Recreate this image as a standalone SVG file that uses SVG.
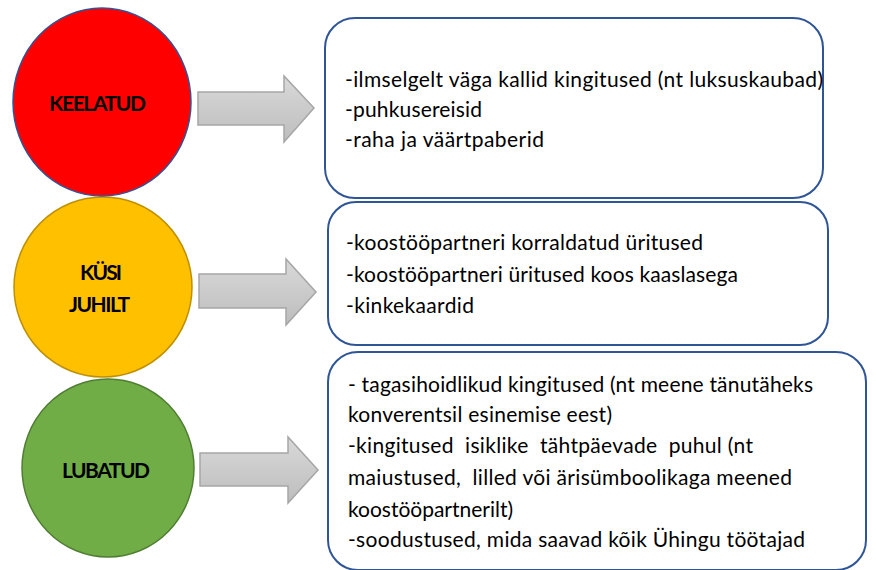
<svg xmlns="http://www.w3.org/2000/svg" width="876" height="570" viewBox="0 0 876 570">
<defs>
<linearGradient id="ag" x1="0" y1="0" x2="0" y2="1">
<stop offset="0" stop-color="#d9d9d9"/>
<stop offset="1" stop-color="#bdbdbd"/>
</linearGradient>
<style>
.lbl{font-family:Lato,"Liberation Sans",sans-serif;font-weight:bold;font-size:21px;fill:#000}
.txt{font-family:Lato,"Liberation Sans",sans-serif;font-size:21px;fill:#000}
.box{fill:#fff;stroke:#2f5597;stroke-width:2}
.arr{fill:url(#ag);stroke:#a6a6a6;stroke-width:1.5}
</style>
</defs>
<rect width="876" height="570" fill="#fff"/>
<g id="connectors">
<path class="arr" d="M198,92 H284 V76 L314,108 L284,142 V125 H198 Z"/>
<path class="arr" d="M199,274 H286 V259 L316,292 L286,325 V308 H199 Z"/>
<path class="arr" d="M200,453 H288 V437 L318,470 L288,503 V486 H200 Z"/>
</g>
<g id="node-lubatud">
<ellipse cx="108" cy="468" rx="86" ry="89" fill="#70ad47" stroke="#507e32" stroke-width="1.5"/>
<text class="lbl" x="62" y="478" textLength="88">LUBATUD</text>
</g>
<g id="node-kusi">
<ellipse cx="103" cy="287" rx="89" ry="90" fill="#ffc000" stroke="#bf9000" stroke-width="1.5"/>
<text class="lbl" x="80" y="280" textLength="42">KÜSI</text>
<text class="lbl" x="69" y="312" textLength="61">JUHILT</text>
</g>
<g id="node-keelatud">
<ellipse cx="102" cy="102" rx="89" ry="94" fill="#ff0000" stroke="#2f5597" stroke-width="1.5"/>
<text class="lbl" x="49" y="111" textLength="97">KEELATUD</text>
</g>
<g id="box-keelatud">
<rect class="box" x="325" y="18" width="498" height="180" rx="30" ry="30"/>
<text class="txt" x="345" y="87" textLength="478">-ilmselgelt väga kallid kingitused (nt luksuskaubad)</text>
<text class="txt" x="345" y="117" textLength="137">-puhkusereisid</text>
<text class="txt" x="345" y="147" textLength="199">-raha ja väärtpaberid</text>
</g>
<g id="box-kusi">
<rect class="box" x="328" y="202" width="500" height="143" rx="28" ry="28"/>
<text class="txt" x="346" y="250" textLength="357">-koostööpartneri korraldatud üritused</text>
<text class="txt" x="346" y="282" textLength="392">-koostööpartneri üritused koos kaaslasega</text>
<text class="txt" x="346" y="313" textLength="128">-kinkekaardid</text>
</g>
<g id="box-lubatud">
<rect class="box" x="328" y="352" width="538" height="218" rx="30" ry="30"/>
<text class="txt" x="348" y="392" textLength="465">- tagasihoidlikud kingitused (nt meene tänutäheks</text>
<text class="txt" x="348" y="422" textLength="264">konverentsil esinemise eest)</text>
<text class="txt" x="348" y="453" textLength="405" xml:space="preserve">-kingitused  isiklike  tähtpäevade  puhul (nt</text>
<text class="txt" x="348" y="485" textLength="444" xml:space="preserve">maiustused,  lilled või ärisümboolikaga meened</text>
<text class="txt" x="348" y="517" textLength="165">koostööpartnerilt)</text>
<text class="txt" x="348" y="547" textLength="457">-soodustused, mida saavad kõik Ühingu töötajad</text>
</g>
</svg>
